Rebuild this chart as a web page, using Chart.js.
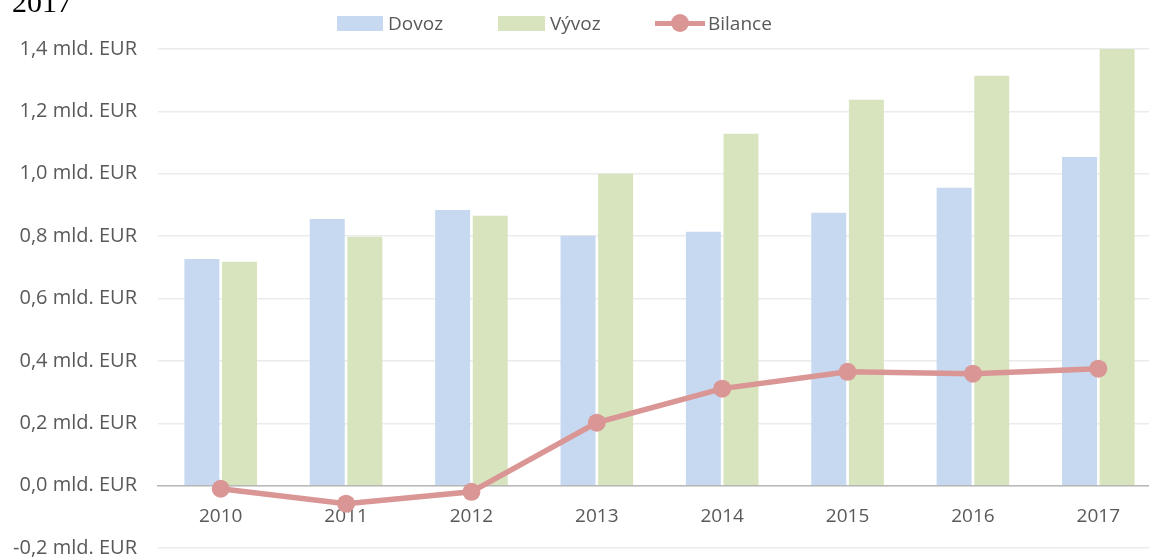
<!DOCTYPE html>
<html>
<head>
<meta charset="utf-8">
<script src="https://cdn.jsdelivr.net/npm/chart.js@4/dist/chart.umd.min.js"></script>
<style>
  html, body { margin: 0; padding: 0; background: #fff; overflow: hidden; width: 1149px; height: 557px; }
  #wrap { position: absolute; left: 0; top: 0; width: 1170px; height: 581px; }
  #title { position: absolute; left: 12px; top: -13px; font: 30px/30px "Liberation Serif", "Times New Roman", serif; color: #000; }
  .lg { position: absolute; font: 19px "Open Sans", sans-serif; color: #595959; line-height: 24px; top: 11px; }
  .box { position: absolute; height: 15px; top: 16px; }
</style>
</head>
<body>
<div id="wrap"><canvas id="c" width="1170" height="581"></canvas></div>
<div id="title">2017</div>
<div class="box" style="left:337px;width:46px;background:#C6D9F1"></div>
<div class="lg" style="left:388px">Dovoz</div>
<div class="box" style="left:498px;width:47px;background:#D7E4BD"></div>
<div class="lg" style="left:550px">Vývoz</div>
<div style="position:absolute;left:655px;top:21px;width:50px;height:5px;background:#D99694"></div>
<div style="position:absolute;left:671px;top:14px;width:18px;height:18px;border-radius:50%;background:#D99694"></div>
<div class="lg" style="left:708px">Bilance</div>
<script>
const categories = ["2010", "2011", "2012", "2013", "2014", "2015", "2016", "2017"];
const dovoz   = [0.727, 0.855, 0.884, 0.801, 0.814, 0.875, 0.955, 1.054];
const vyvoz   = [0.718, 0.798, 0.865, 1.000, 1.128, 1.237, 1.314, 1.400];
const bilance = [-0.010, -0.058, -0.020, 0.202, 0.311, 0.365, 0.359, 0.375];
const yTicks  = [-0.2, 0, 0.2, 0.4, 0.6, 0.8, 1.0, 1.2, 1.4];

const fmt = v => v.toFixed(1).replace('.', ',') + ' mld. EUR';

new Chart(document.getElementById('c'), {
  data: {
    labels: categories,
    datasets: [
      { type: 'line', label: 'Bilance', data: bilance, order: 0,
        borderColor: '#D99694', backgroundColor: '#D99694', borderWidth: 5.5,
        pointRadius: 9, pointBackgroundColor: '#D99694', pointBorderWidth: 0, tension: 0 },
      { type: 'bar', label: 'Dovoz', data: dovoz, order: 1, backgroundColor: '#C6D9F1',
        categoryPercentage: 0.6, barPercentage: 0.93 },
      { type: 'bar', label: 'Vývoz', data: vyvoz, order: 2, backgroundColor: '#D7E4BD',
        categoryPercentage: 0.6, barPercentage: 0.93 }
    ]
  },
  options: {
    responsive: false,
    animation: false,
    layout: { padding: { left: 0, right: 8, top: 49, bottom: 9 } },
    plugins: { legend: { display: false }, tooltip: { enabled: false } },
    scales: {
      x: {
        position: { y: 0 },
        afterFit: s => { s.height = 0; },
        grid: { display: false, drawTicks: false },
        border: { display: true, color: '#B8B8B8', width: 1.5 },
        ticks: { color: '#595959', font: { family: 'Open Sans', size: 19 }, padding: 20 }
      },
      y: {
        min: -0.2, max: 1.4,
        afterFit: s => { s.width = 158; },
        afterBuildTicks: s => { s.ticks = yTicks.map(v => ({ value: v })); },
        grid: { color: '#EBEBEB', lineWidth: 1.5, drawTicks: false },
        border: { display: false },
        ticks: { color: '#595959', font: { family: 'Open Sans', size: 20 }, padding: 21,
                 callback: v => fmt(v) }
      }
    }
  }
});
</script>
</body>
</html>
